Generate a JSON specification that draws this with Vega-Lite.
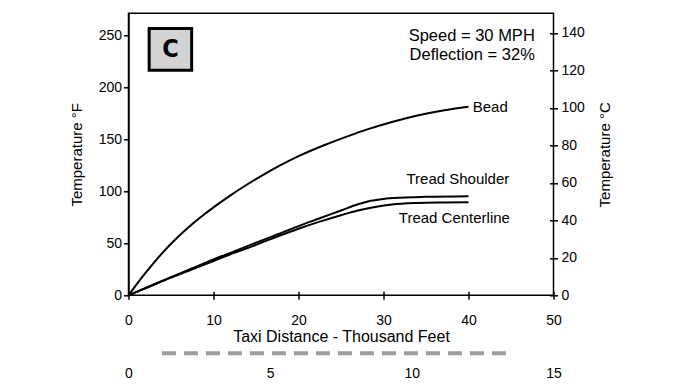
{
  "$schema": "https://vega.github.io/schema/vega-lite/v6.json",
  "width": 425,
  "height": 282,
  "autosize": {"type": "none"},
  "padding": {"left": 128.5, "top": 13.3, "right": 132.5, "bottom": 90.7},
  "background": "white",
  "config": {
    "font": "Liberation Sans",
    "view": {"stroke": "black", "strokeWidth": 1.5},
    "axis": {
      "grid": false,
      "domainColor": "black",
      "domainWidth": 1.5,
      "tickColor": "black",
      "tickWidth": 1.5,
      "labelColor": "black",
      "labelFontSize": 14,
      "labelFlush": false,
      "titleColor": "black",
      "titleFontSize": 15,
      "titleFontWeight": "normal"
    }
  },
  "datasets": {
    "curves": [
      {"series": "Bead", "dist": 0, "tempF": 0},
      {"series": "Bead", "dist": 1, "tempF": 11},
      {"series": "Bead", "dist": 2, "tempF": 21.5},
      {"series": "Bead", "dist": 3, "tempF": 31.5},
      {"series": "Bead", "dist": 4, "tempF": 40.8},
      {"series": "Bead", "dist": 5, "tempF": 49.5},
      {"series": "Bead", "dist": 6, "tempF": 57.5},
      {"series": "Bead", "dist": 7, "tempF": 64.9},
      {"series": "Bead", "dist": 8, "tempF": 71.8},
      {"series": "Bead", "dist": 9, "tempF": 78.3},
      {"series": "Bead", "dist": 10, "tempF": 84.5},
      {"series": "Bead", "dist": 12, "tempF": 96.1},
      {"series": "Bead", "dist": 14, "tempF": 106.7},
      {"series": "Bead", "dist": 16, "tempF": 116.5},
      {"series": "Bead", "dist": 18, "tempF": 125.5},
      {"series": "Bead", "dist": 20, "tempF": 133.7},
      {"series": "Bead", "dist": 23, "tempF": 144.2},
      {"series": "Bead", "dist": 26, "tempF": 153.5},
      {"series": "Bead", "dist": 28, "tempF": 159.2},
      {"series": "Bead", "dist": 31, "tempF": 166.6},
      {"series": "Bead", "dist": 34, "tempF": 172.8},
      {"series": "Bead", "dist": 37, "tempF": 177.6},
      {"series": "Bead", "dist": 40, "tempF": 181.2},
      {"series": "Tread Shoulder", "dist": 0, "tempF": 0},
      {"series": "Tread Shoulder", "dist": 2.5, "tempF": 8.8},
      {"series": "Tread Shoulder", "dist": 5, "tempF": 17.5},
      {"series": "Tread Shoulder", "dist": 7.5, "tempF": 26},
      {"series": "Tread Shoulder", "dist": 10, "tempF": 34.5},
      {"series": "Tread Shoulder", "dist": 12.5, "tempF": 42.5},
      {"series": "Tread Shoulder", "dist": 15, "tempF": 50.5},
      {"series": "Tread Shoulder", "dist": 17.5, "tempF": 58.5},
      {"series": "Tread Shoulder", "dist": 20, "tempF": 66.5},
      {"series": "Tread Shoulder", "dist": 22.5, "tempF": 74},
      {"series": "Tread Shoulder", "dist": 25, "tempF": 81.5},
      {"series": "Tread Shoulder", "dist": 27, "tempF": 87.5},
      {"series": "Tread Shoulder", "dist": 28.5, "tempF": 90.8},
      {"series": "Tread Shoulder", "dist": 30, "tempF": 92.6},
      {"series": "Tread Shoulder", "dist": 32, "tempF": 93.8},
      {"series": "Tread Shoulder", "dist": 35, "tempF": 94.6},
      {"series": "Tread Shoulder", "dist": 40, "tempF": 95.2},
      {"series": "Tread Centerline", "dist": 0, "tempF": 0},
      {"series": "Tread Centerline", "dist": 2.5, "tempF": 8.5},
      {"series": "Tread Centerline", "dist": 5, "tempF": 17},
      {"series": "Tread Centerline", "dist": 7.5, "tempF": 25},
      {"series": "Tread Centerline", "dist": 10, "tempF": 33},
      {"series": "Tread Centerline", "dist": 12.5, "tempF": 41},
      {"series": "Tread Centerline", "dist": 15, "tempF": 48.5},
      {"series": "Tread Centerline", "dist": 17.5, "tempF": 56.5},
      {"series": "Tread Centerline", "dist": 20, "tempF": 64},
      {"series": "Tread Centerline", "dist": 22.5, "tempF": 70.8},
      {"series": "Tread Centerline", "dist": 25, "tempF": 77},
      {"series": "Tread Centerline", "dist": 27, "tempF": 81.5},
      {"series": "Tread Centerline", "dist": 29, "tempF": 84.8},
      {"series": "Tread Centerline", "dist": 31, "tempF": 87.2},
      {"series": "Tread Centerline", "dist": 34, "tempF": 88.7},
      {"series": "Tread Centerline", "dist": 37, "tempF": 89.2},
      {"series": "Tread Centerline", "dist": 40, "tempF": 89.4}
    ],
    "labels": [
      {"text": "Bead", "dist": 40.5, "tempF": 181.3},
      {"text": "Tread Shoulder", "dist": 32.7, "tempF": 111.5},
      {"text": "Tread Centerline", "dist": 31.8, "tempF": 74}
    ],
    "notes": [
      {"text": "Speed = 30 MPH", "dist": 47.8, "tempF": 249},
      {"text": "Deflection = 32%", "dist": 47.8, "tempF": 231}
    ],
    "box": [
      {"text": "C", "x1": 2.43, "x2": 7.43, "y1": 216.2, "y2": 256.5, "xm": 4.93, "ym": 236.3}
    ],
    "metric": [
      {"km1": 1.18, "km2": 13.5, "tempC": -30.9}
    ]
  },
  "layer": [
    {
      "data": {"name": "curves"},
      "mark": {"type": "line", "color": "black", "strokeWidth": 2, "interpolate": "monotone"},
      "encoding": {
        "x": {
          "field": "dist", "type": "quantitative",
          "scale": {"domain": [0, 50], "nice": false, "zero": false},
          "axis": {
            "orient": "bottom",
            "values": [0, 10, 20, 30, 40, 50],
            "domain": false,
            "offset": -4,
            "tickSize": 8,
            "labelBaseline": "middle",
            "labelPadding": 20.7,
            "title": "Taxi Distance - Thousand Feet",
            "titleFontSize": 16,
            "titlePadding": 1
          }
        },
        "y": {
          "field": "tempF", "type": "quantitative",
          "scale": {"domain": [0, 271], "nice": false, "zero": false},
          "axis": {
            "orient": "left",
            "values": [0, 50, 100, 150, 200, 250],
            "tickSize": 5,
            "labelPadding": 2,
            "title": "Temperature °F",
            "titlePadding": 14
          }
        },
        "detail": {"field": "series", "type": "nominal"}
      }
    },
    {
      "data": {"name": "box"},
      "mark": {"type": "rect", "fill": "#d1d3d4", "stroke": "black", "strokeWidth": 3},
      "encoding": {
        "x": {"field": "x1", "type": "quantitative", "scale": {"domain": [0, 50], "nice": false, "zero": false}, "axis": null},
        "x2": {"field": "x2"},
        "y": {"field": "y1", "type": "quantitative", "scale": {"domain": [0, 271], "nice": false, "zero": false}, "axis": null},
        "y2": {"field": "y2"}
      }
    },
    {
      "data": {"name": "box"},
      "mark": {"type": "text", "font": "DejaVu Sans Condensed, DejaVu Sans", "fontSize": 25, "fontWeight": "bold", "color": "black", "align": "center", "baseline": "middle"},
      "encoding": {
        "x": {"field": "xm", "type": "quantitative", "scale": {"domain": [0, 50], "nice": false, "zero": false}, "axis": null},
        "y": {"field": "ym", "type": "quantitative", "scale": {"domain": [0, 271], "nice": false, "zero": false}, "axis": null},
        "text": {"field": "text"}
      }
    },
    {
      "data": {"name": "labels"},
      "mark": {"type": "text", "fontSize": 15, "color": "black", "align": "left", "baseline": "middle"},
      "encoding": {
        "x": {"field": "dist", "type": "quantitative", "scale": {"domain": [0, 50], "nice": false, "zero": false}, "axis": null},
        "y": {"field": "tempF", "type": "quantitative", "scale": {"domain": [0, 271], "nice": false, "zero": false}, "axis": null},
        "text": {"field": "text"}
      }
    },
    {
      "data": {"name": "notes"},
      "mark": {"type": "text", "fontSize": 16.5, "color": "black", "align": "right", "baseline": "middle"},
      "encoding": {
        "x": {"field": "dist", "type": "quantitative", "scale": {"domain": [0, 50], "nice": false, "zero": false}, "axis": null},
        "y": {"field": "tempF", "type": "quantitative", "scale": {"domain": [0, 271], "nice": false, "zero": false}, "axis": null},
        "text": {"field": "text"}
      }
    },
    {
      "data": {"name": "metric"},
      "mark": {"type": "rule", "color": "#9d9d9d", "strokeWidth": 4, "strokeDash": [14, 8]},
      "encoding": {
        "x": {
          "field": "km1", "type": "quantitative",
          "scale": {"domain": [0, 15], "nice": false, "zero": false},
          "axis": {
            "orient": "bottom",
            "values": [0, 5, 10, 15],
            "domain": false,
            "ticks": false,
            "labelBaseline": "middle",
            "labelPadding": 78,
            "title": null
          }
        },
        "x2": {"field": "km2"},
        "y": {
          "field": "tempC", "type": "quantitative",
          "scale": {"domain": [0, 150.4], "nice": false, "zero": false},
          "axis": {
            "orient": "right",
            "values": [0, 20, 40, 60, 80, 100, 120, 140],
            "domain": false,
            "offset": -4,
            "tickSize": 8,
            "labelPadding": 3.5,
            "title": "Temperature °C",
            "titleAngle": 270,
            "titleBaseline": "top",
            "titlePadding": 13
          }
        }
      }
    }
  ],
  "resolve": {
    "scale": {"x": "independent", "y": "independent"},
    "axis": {"x": "independent", "y": "independent"}
  }
}
